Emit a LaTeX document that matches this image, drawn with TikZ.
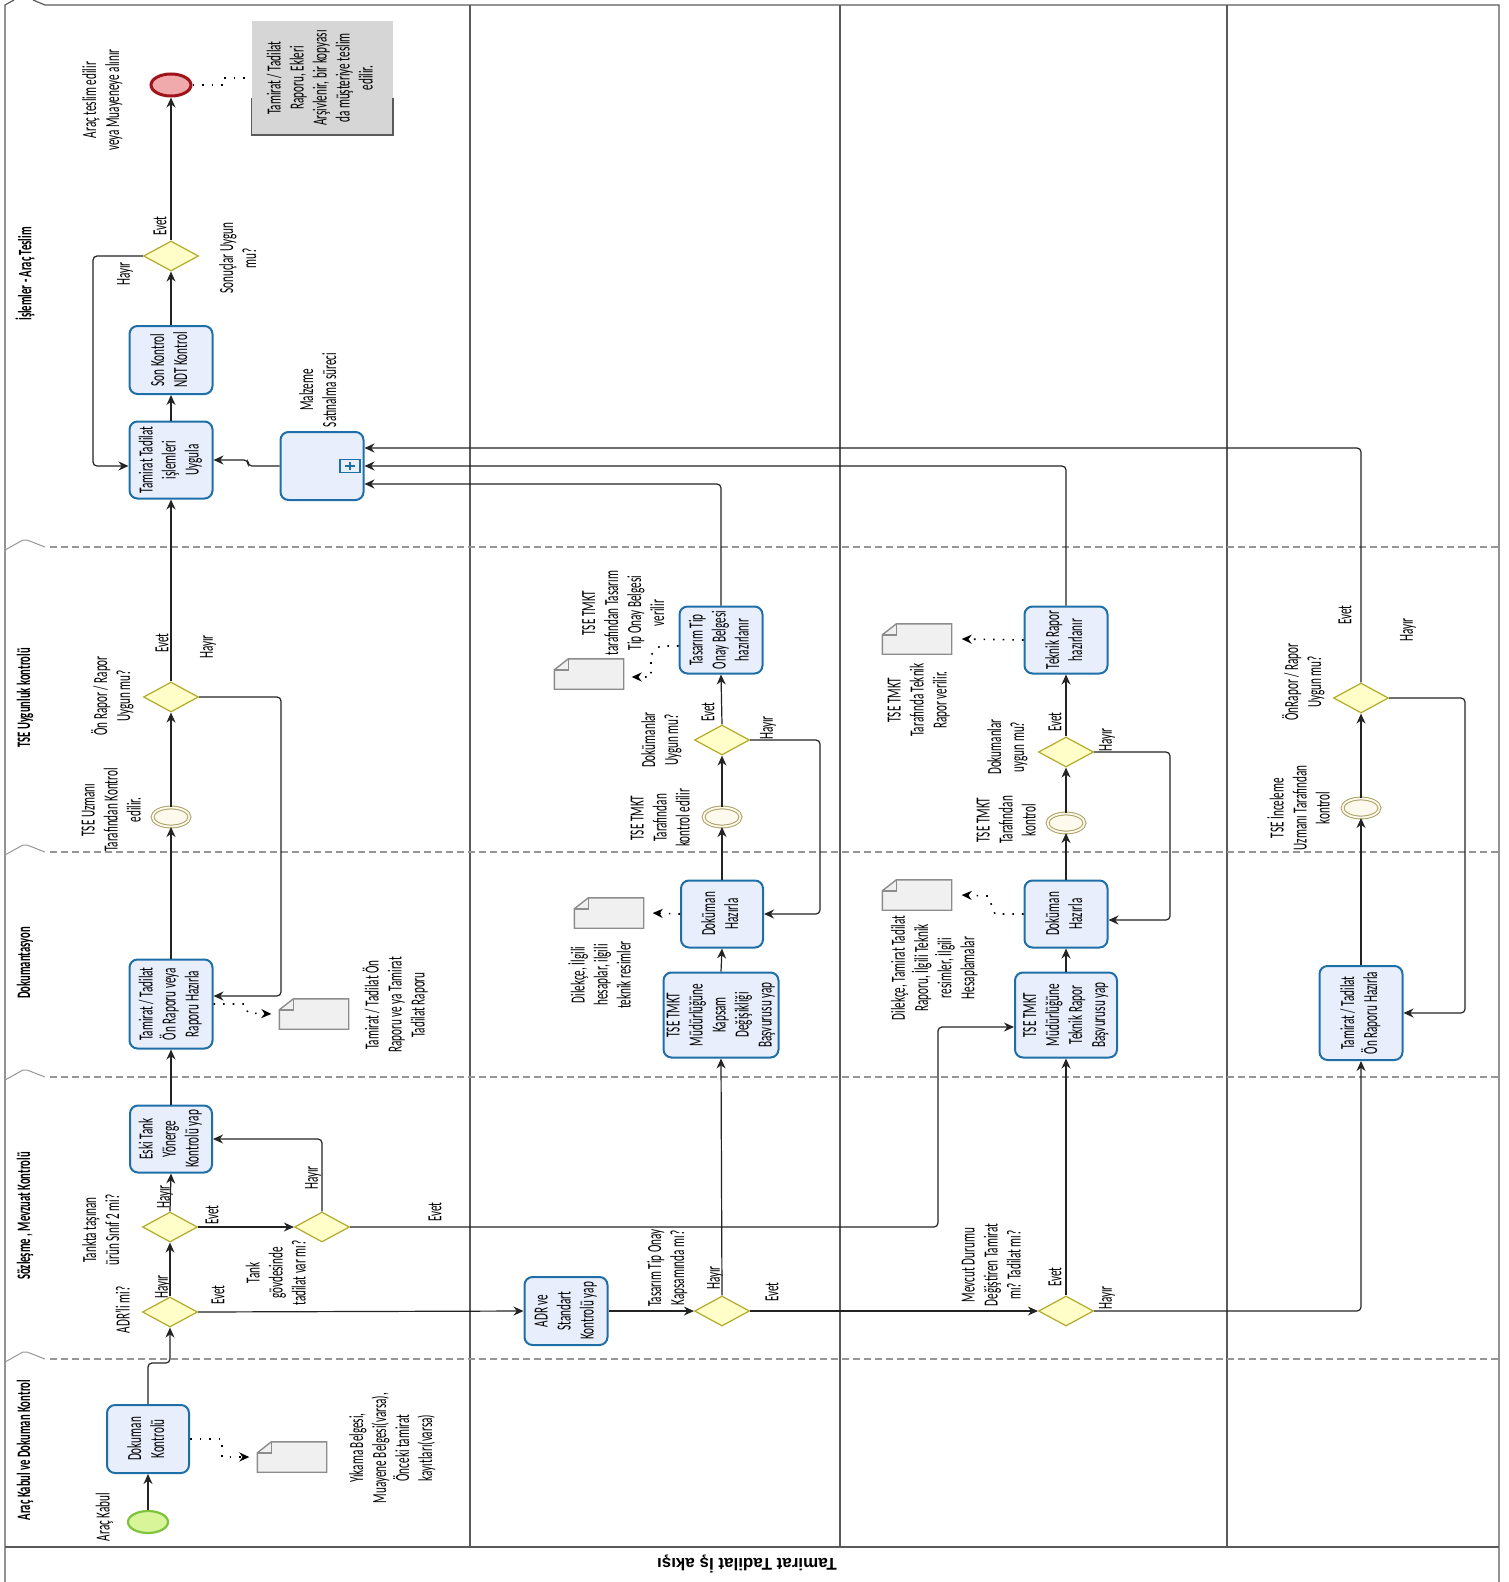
\documentclass[tikz,border=0pt]{standalone}
\usepackage{fontspec}
\setmainfont{Carlito}[FakeStretch=0.56]
\newfontfamily\baslikfont{Liberation Sans}
\usepackage{graphicx}
\usetikzlibrary{shapes.geometric,arrows.meta}
\definecolor{gorevc}{RGB}{30,111,168}
\definecolor{gorevd}{RGB}{233,238,252}
\definecolor{kapic}{RGB}{178,170,40}
\definecolor{kapid}{RGB}{255,253,200}
\definecolor{olayc}{RGB}{170,160,100}
\definecolor{olayd}{RGB}{253,249,236}
\definecolor{basc}{RGB}{125,195,60}
\definecolor{basd}{RGB}{217,245,154}
\definecolor{bitc}{RGB}{160,20,25}
\definecolor{bitd}{RGB}{240,170,172}
\definecolor{belgec}{RGB}{140,140,140}
\definecolor{belged}{RGB}{240,240,240}
\definecolor{notd}{RGB}{214,214,214}
\definecolor{cercevec}{RGB}{90,90,90}
\definecolor{seritc}{RGB}{150,150,150}
\definecolor{akisc}{RGB}{35,35,35}
\newcommand{\dikyazi}[1]{\rotatebox{90}{\begin{tabular}{@{}c@{}}#1\end{tabular}}}

\begin{document}
\begin{tikzpicture}[x=1pt, y=-1pt,
    every node/.style={font=\fontsize{20}{23}\selectfont, inner sep=0pt},
    serit/.style={font=\fontsize{19}{22}\selectfont\bfseries},
    gorev/.style={draw=gorevc, fill=gorevd, line width=2pt, rounded corners=8pt},
    kapi/.style={diamond, draw=kapic, fill=kapid, line width=1.2pt, minimum width=55pt, minimum height=30pt},
    araolay/.style={ellipse, draw=olayc, double=olayd, double distance=1.8pt, line width=1pt, fill=olayd, minimum width=37pt, minimum height=19pt},
    belge/.style={minimum width=69pt, minimum height=30pt},
    cerceve/.style={draw=cercevec, line width=1.2pt},
    akis/.style={draw=akisc, line width=1.2pt, rounded corners=4pt, -{Stealth[length=10pt,width=9pt]}},
    iliski/.style={draw=black, line width=1.6pt, dash pattern=on 1.6pt off 8pt, -{Stealth[length=10pt,width=9pt]}}]

    \useasboundingbox (0,0) rectangle (1508,1582);

    % 外枠と列の区切り
    \draw[cerceve] (5,1582) -- (5,5) -- (14,0);
    \draw[cerceve] (33,0) -- (45,5) -- (1499,5) -- (1499,1582);
    \draw[cerceve] (5,1547) -- (1499,1547);
    \foreach \sx in {470,840,1227} {
        \draw[cerceve] (\sx,5) -- (\sx,1547);
    }
    % レーンの境界（破線）
    \foreach \sy in {547,852,1077,1359} {
        \draw[seritc, line width=1.2pt, dash pattern=on 7pt off 4pt] (50,\sy) -- (1499,\sy);
        \draw[seritc, line width=1pt] (5,{\sy+3}) -- (23,{\sy-7}) -- (27,{\sy-7}) -- (45,\sy);
    }
    % レーン名
    \foreach \ly/\lt [count=\i] in {274/{İşlemler - Araç Teslim}, 698/{TSE Uygunluk kontrolü}, 963/{Dokumantasyon}, 1216/{Sözleşme , Mevzuat Kontrolü}, 1450/{Araç Kabul ve Dokuman Kontrol}} {
        \node[serit] (serit\i) at (25,\ly) {\rotatebox{90}{\lt}};
    }
    \node[font=\baslikfont\bfseries\fontsize{17}{19}\selectfont, rotate=180] (baslik) at (747,1564) {Tamirat Tadilat İş akışı};

    % イベント
    \node[ellipse, draw=basc, fill=basd, line width=2.2pt, minimum width=40pt, minimum height=22pt] (e_bas) at (148,1522) {};
    \node[ellipse, draw=bitc, fill=bitd, line width=3pt, minimum width=40pt, minimum height=22pt] (e_bit) at (171,85) {};
    \node[araolay] (e_m1) at (171,817) {};
    \node[araolay] (e_m2) at (722,817) {};
    \node[araolay] (e_m3) at (1066,823) {};
    \node[araolay] (e_m4) at (1361,808) {};

    % タスク
    \node[gorev, minimum width=82pt, minimum height=68pt] (t_dok) at (148,1439) {\dikyazi{Dokuman\\Kontrolü}};
    \node[gorev, minimum width=82pt, minimum height=67pt] (t_eski) at (171,1139) {\dikyazi{Eski Tank\\Yönerge\\Kontrolü yap}};
    \node[gorev, minimum width=83pt, minimum height=89pt] (t_onr) at (171,1004) {\dikyazi{Tamirat / Tadilat\\Ön Raporu veya\\Raporu Hazırla}};
    \node[gorev, minimum width=83pt, minimum height=77pt] (t_uyg) at (171,460) {\dikyazi{Tamirat Tadilat\\işlemleri\\Uygula}};
    \node[gorev, minimum width=83pt, minimum height=68pt] (t_son) at (171,360) {\dikyazi{Son Kontrol\\NDT Kontrol}};
    \node[gorev, minimum width=83pt, minimum height=68pt] (t_malz) at (322,466) {};
    \node[draw=gorevc, fill=gorevd, line width=1.4pt, minimum width=20pt, minimum height=13pt] (arti) at (350,466) {};
    \draw[gorevc, line width=2pt] ([xshift=-5pt]arti.center) -- ([xshift=5pt]arti.center)
        ([yshift=-4pt]arti.center) -- ([yshift=4pt]arti.center);
    \node[gorev, minimum width=83pt, minimum height=68pt] (t_adr) at (566,1311) {\dikyazi{ADR ve\\Standart\\Kontrolü yap}};
    \node[gorev, minimum width=114pt, minimum height=85pt] (t_kap) at (721,1015) {\dikyazi{TSE TMKT\\Müdürlüğüne\\Kapsam\\Değişikliği\\Başvurusu yap}};
    \node[gorev, minimum width=82pt, minimum height=67pt] (t_dh1) at (722,914) {\dikyazi{Doküman\\Hazırla}};
    \node[gorev, minimum width=83pt, minimum height=67pt] (t_tip) at (721,640) {\dikyazi{Tasarım Tip\\Onay Belgesi\\hazırlanır}};
    \node[gorev, minimum width=102pt, minimum height=85pt] (t_tek) at (1066,1015) {\dikyazi{TSE TMKT\\Müdürlüğüne\\Teknik Rapor\\Başvurusu yap}};
    \node[gorev, minimum width=83pt, minimum height=67pt] (t_dh2) at (1066,914) {\dikyazi{Doküman\\Hazırla}};
    \node[gorev, minimum width=83pt, minimum height=67pt] (t_trh) at (1066,640) {\dikyazi{Teknik Rapor\\hazırlanır}};
    \node[gorev, minimum width=83pt, minimum height=94pt] (t_onr2) at (1361,1013) {\dikyazi{Tamirat / Tadilat\\Ön Raporu Hazırla}};

    % ゲートウェイ
    \node[kapi] (g_adr) at (170,1312) {};
    \node[kapi] (g_tank) at (170,1227) {};
    \node[kapi] (g_govde) at (322,1227) {};
    \node[kapi] (g_tip) at (722,1311) {};
    \node[kapi] (g_mev) at (1066,1311) {};
    \node[kapi] (g_sonuc) at (171,256) {};
    \node[kapi] (g_onr) at (171,697) {};
    \node[kapi] (g_dok1) at (722,740) {};
    \node[kapi] (g_dok2) at (1066,752) {};
    \node[kapi] (g_onr2) at (1361,698) {};

    % 文書アイコン
    \foreach \bn/\bx/\by in {b1/292/1457, b2/314/1014, b3/609/913, b4/589/674, b5/917/895, b6/917/639} {
        \node[belge] (\bn) at (\bx,\by) {};
        \filldraw[draw=belgec, fill=belged, line width=1.4pt] ([xshift=14pt]\bn.north west) -- (\bn.north east)
            -- (\bn.south east) -- (\bn.south west) -- ([yshift=-11pt]\bn.north west) -- cycle;
        \draw[belgec, line width=1.4pt] ([yshift=-11pt]\bn.north west) -- ([xshift=14pt,yshift=-11pt]\bn.north west)
            -- ([xshift=14pt]\bn.north west);
    }

    % 注釈
    \node[fill=notd, minimum width=141pt, minimum height=114pt] (not1) at (322,78)
        {\dikyazi{Tamirat / Tadilat\\Raporu, Ekleri\\Arşivlenir, bir kopyası\\da müşteriye teslim\\edilir.}};
    \draw[cercevec, line width=1.6pt] ([yshift=37pt]not1.south west) -- (not1.south west)
        -- (not1.south east) -- ([yshift=37pt]not1.south east);

    % ラベル
    \node (l_kabul) at (105,1517) {\dikyazi{Araç Kabul}};
    \node (l_yik) at (393,1448) {\dikyazi{Yıkama Belgesi,\\Muayene Belgesi(varsa),\\Önceki tamirat\\kayıtları(varsa)}};
    \node (l_adr) at (125,1310) {\dikyazi{ADR'li mi?}};
    \node (l_tank) at (103,1230) {\dikyazi{Tankta taşınan\\ürün Sınıf 2 mi?}};
    \node (l_govde) at (278,1273) {\dikyazi{Tank\\gövdesinde\\tadilat var mı?}};
    \node (l_tip) at (668,1268) {\dikyazi{Tasarım Tip Onay\\Kapsamında mı?}};
    \node (l_mev) at (993,1265) {\dikyazi{Mevcut Durumu\\Değiştiren Tamirat\\mı? Tadilat mı?}};
    \node (l_b2) at (397,1005) {\dikyazi{Tamirat / Tadilat Ön\\Raporu ve ya Tamirat\\Tadilat Raporu}};
    \node (l_b3) at (603,975) {\dikyazi{Dilekçe, İlgili\\hesaplar, ilgili\\teknik resimler}};
    \node (l_b5) at (935,968) {\dikyazi{Dilekçe, Tamirat Tadilat\\Raporu, İlgili Teknik\\resimler, İlgili\\Hesaplamalar}};
    \node (l_m1) at (113,810) {\dikyazi{TSE Uzmanı\\Tarafından Kontrol\\edilir.}};
    \node (l_onr) at (114,696) {\dikyazi{Ön Rapor / Rapor\\Uygun mu?}};
    \node (l_m2) at (662,818) {\dikyazi{TSE TMKT\\Tarafından\\kontrol edilir}};
    \node (l_dok1) at (662,740) {\dikyazi{Dokümanlar\\Uygun mu?}};
    \node (l_b4) at (625,613) {\dikyazi{TSE TMKT\\tarafından Tasarım\\Tip Onay Belgesi\\verilir}};
    \node (l_m3) at (1008,820) {\dikyazi{TSE TMKT\\Tarafından\\kontrol}};
    \node (l_dok2) at (1008,747) {\dikyazi{Dokumanlar\\uygun mu?}};
    \node (l_b6) at (919,700) {\dikyazi{TSE TMKT\\Tarafında Teknik\\Rapor verilir.}};
    \node (l_m4) at (1302,808) {\dikyazi{TSE İnceleme\\Uzmanı Tarafından\\kontrol}};
    \node (l_onr2) at (1305,682) {\dikyazi{ÖnRapor / Rapor\\Uygun mu?}};
    \node (l_sonuc) at (240,258) {\dikyazi{Sonuçlar Uygun\\mu?}};
    \node (l_bit) at (103,100) {\dikyazi{Araç teslim edilir\\veya Muayeneye alınır}};
    \node (l_malz) at (320,390) {\dikyazi{Malzeme\\Satınalma süreci}};
    % Evet / Hayır
    \foreach \ex/\ey/\et [count=\i] in {163/1287/Hayır, 218/1295/Evet, 165/1197/Hayır, 212/1215/Evet,
        313/1178/Hayır, 435/1212/Evet, 715/1278/Hayır, 772/1292/Evet, 1055/1277/Evet, 1107/1298/Hayır,
        162/643/Evet, 208/647/Hayır, 708/712/Evet, 768/728/Hayır, 1055/722/Evet, 1107/740/Hayır,
        1345/615/Evet, 1408/630/Hayır, 160/226/Evet, 125/274/Hayır} {
        \node (yn\i) at (\ex,\ey) {\rotatebox{90}{\et}};
    }

    % シーケンスフロー
    \draw[akis] (e_bas.north) -- (t_dok.south);
    \draw[akis] (t_dok.north) -- (148,1363) -- (170,1363) -- (g_adr.south);
    \draw[akis] (g_adr.north) -- (g_tank.south);
    \draw[akis] (g_adr.east) -- (t_adr.west);
    \draw[akis] (g_tank.north) -- (t_eski.south);
    \draw[akis] (g_tank.east) -- (g_govde.west);
    \draw[akis] (g_govde.north) |- (t_eski.east);
    \draw[akis] (g_govde.east) -- (938,1227) -- (938,1027) -- ([yshift=-12pt]t_tek.west);
    \draw[akis] (t_adr.east) -- (g_tip.west);
    \draw[akis] (g_tip.north) -- (t_kap.south);
    \draw[akis] (g_tip.east) -- (g_mev.west);
    \draw[akis] (g_mev.north) -- (t_tek.south);
    \draw[akis] (g_mev.east) -| (t_onr2.south);
    \draw[akis] (t_kap.north) -- (t_dh1.south);
    \draw[akis] (t_dh1.north) -- (e_m2.south);
    \draw[akis] (e_m2.north) -- (g_dok1.south);
    \draw[akis] (g_dok1.north) -- (t_tip.south);
    \draw[akis] (g_dok1.east) -- (820,740) |- (t_dh1.east);
    \draw[akis] (t_tip.north) |- ([yshift=-18pt]t_malz.east);
    \draw[akis] (t_tek.north) -- (t_dh2.south);
    \draw[akis] (t_dh2.north) -- (e_m3.south);
    \draw[akis] (e_m3.north) -- (g_dok2.south);
    \draw[akis] (g_dok2.north) -- (t_trh.south);
    \draw[akis] (g_dok2.east) -- (1170,752) |- ([yshift=-6pt]t_dh2.east);
    \draw[akis] (t_trh.north) |- (t_malz.east);
    \draw[akis] (t_onr2.north) -- (e_m4.south);
    \draw[akis] (e_m4.north) -- (g_onr2.south);
    \draw[akis] (g_onr2.north) |- ([yshift=18pt]t_malz.east);
    \draw[akis] (g_onr2.east) -- (1465,698) |- (t_onr2.east);
    \draw[akis] (t_eski.north) -- (t_onr.south);
    \draw[akis] (t_onr.north) -- (e_m1.south);
    \draw[akis] (e_m1.north) -- (g_onr.south);
    \draw[akis] (g_onr.north) -- (t_uyg.south);
    \draw[akis] (g_onr.east) -- (281,697) |- ([yshift=8pt]t_onr.east);
    \draw[akis] (t_malz.west) -- (248,466) |- (t_uyg.east);
    \draw[akis] (t_uyg.north) -- (t_son.south);
    \draw[akis] (t_son.north) -- (g_sonuc.south);
    \draw[akis] (g_sonuc.north) -- (e_bit.south);
    \draw[akis] (g_sonuc.west) -- (93,256) |- ([yshift=-6pt]t_uyg.west);

    % 関連（点線）
    \draw[iliski] (t_dok.east) -- (222,1439) -- (222,1457) -- ([xshift=-8pt]b1.west);
    \draw[iliski] (t_onr.east) -- (245,1004) -- (248,1013) -- ([xshift=-8pt]b2.west);
    \draw[iliski] (t_dh1.west) -- ([xshift=9pt]b3.east);
    \draw[iliski] ([yshift=-6pt]t_tip.west) -- (660,646) -- (651,655) -- (651,677) -- ([xshift=8pt,yshift=-3pt]b4.east);
    \draw[iliski] (t_dh2.west) -- (995,914) -- (988,896) -- ([xshift=10pt]b5.east);
    \draw[iliski] (t_trh.west) -- ([xshift=10pt]b6.east);
    \draw[black, line width=1.6pt, dash pattern=on 1.6pt off 8pt] (e_bit.east) -- (222,85) -- (222,78) -- (not1.west);

\end{tikzpicture}
\end{document}
